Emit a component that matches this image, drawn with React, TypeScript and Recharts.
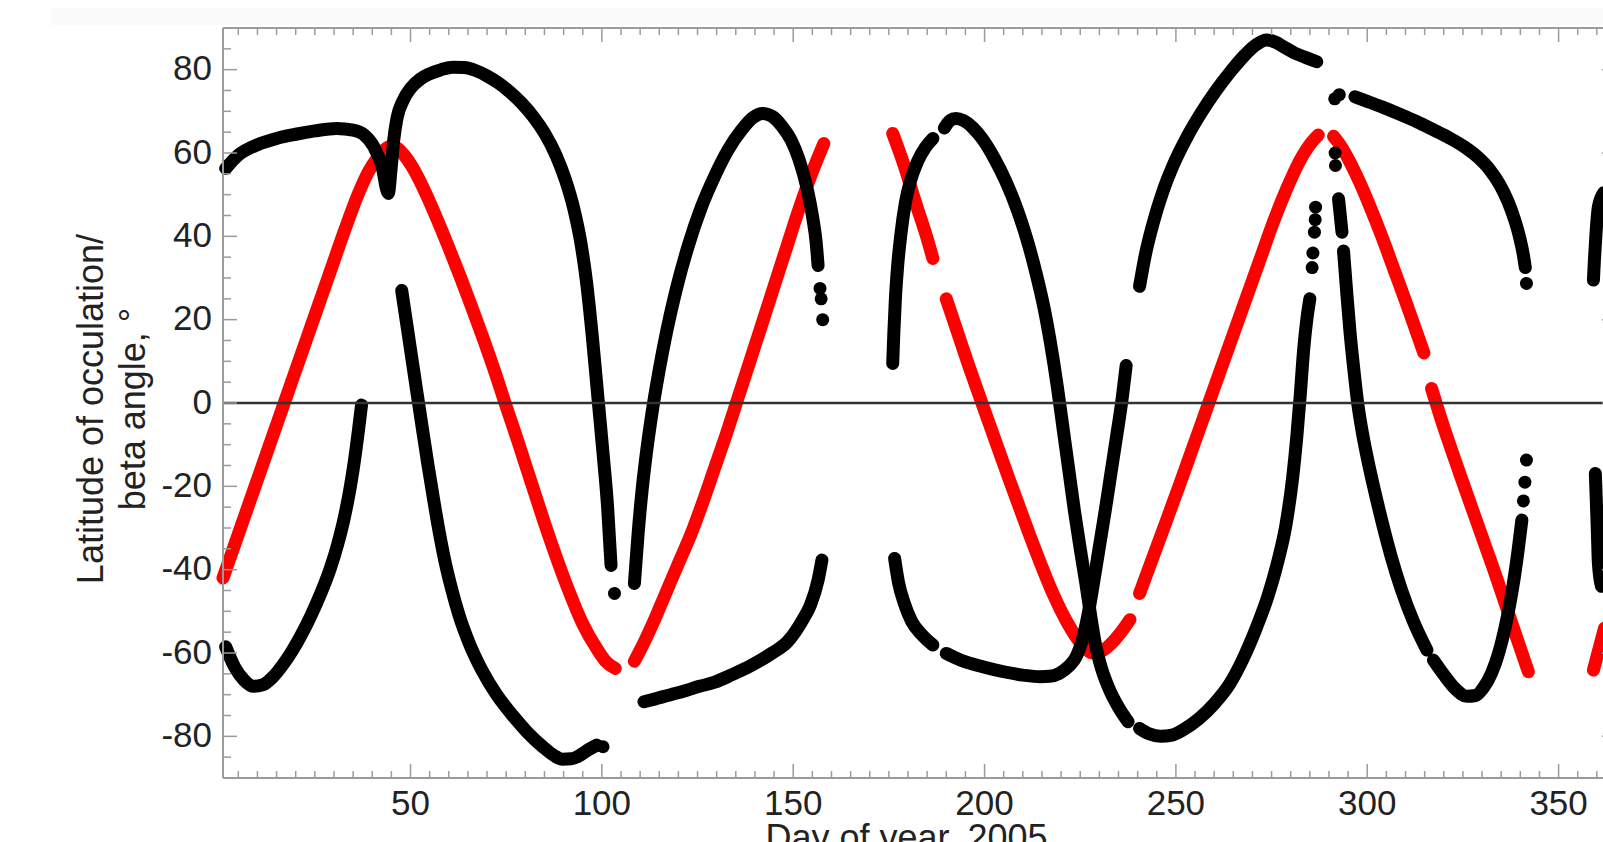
import { ComposedChart, Line, Scatter, XAxis, YAxis, ReferenceLine } from "recharts";

type Pt = [number, number];

// beta angle (red): one array per unbroken run of points, [day, degrees]
const betaA: Pt[] = [
  [1, -42], [5, -31.5], [9, -21], [13, -10.5], [17, 0], [21, 10.5], [25, 21], [29, 31.5], [33, 42],
  [36.5, 50.5], [39, 55.5], [41.5, 59], [43.5, 61], [45, 61.6], [46.5, 61.2], [48.5, 59.3], [51, 55.8],
  [54, 50.3], [57, 44], [60, 37.3], [63, 30.3], [66, 23], [69, 15.5], [72, 7.6], [74.7, 0], [78, -9],
  [81.7, -19.5], [86, -31.5], [90.7, -43.5], [95, -53], [98.7, -59], [101, -62], [103.5, -63.7],
];
const betaB: Pt[] = [
  [108.5, -62], [111, -57.5], [114, -51.5], [117, -45], [120, -38.5], [123.5, -31], [126.5, -23.5],
  [129.5, -15.5], [132.5, -7.5], [135.5, 1], [138.5, 9.5], [141.5, 18], [145, 28], [148.5, 38],
  [151.5, 46.5], [155, 55.5], [158, 62.3],
];
const betaC: Pt[] = [[176, 64.7], [179, 57], [182, 48], [184.5, 41], [186.5, 34.7]];
const betaD: Pt[] = [
  [190, 25], [193, 16.8], [196, 8.6], [199.5, -0.5], [203, -9.5], [206.5, -18.5], [210.5, -28.5],
  [214, -37], [218, -46], [221.5, -52.5], [225, -57.5], [228.5, -60], [230.5, -59.6], [233, -57.8],
  [235.5, -55.2], [238, -52],
];
const betaE: Pt[] = [
  [240.5, -45.7], [244, -37], [247.5, -28.3], [251, -19.5], [254.5, -10.5], [258, -1.5], [261.5, 7.5],
  [265, 16.5], [268.5, 25.5], [272, 34.5], [275.5, 43.5], [279, 51.5], [282, 57.5], [285, 62], [287.2, 64.3],
];
const betaF: Pt[] = [
  [291.2, 64], [293, 61.8], [295.5, 57.8], [298, 53], [301, 46.5], [304, 39.5], [307, 32], [310, 24.5],
  [312.5, 18], [314.8, 12],
];
const betaG: Pt[] = [[316.8, 3.5], [319, -3], [324, -16.5], [329, -29.5], [334, -42.5], [338, -53.5], [342.1, -64.5]];
const betaH: Pt[] = [[359.1, -64.1], [362, -54]];

// latitude of occultation (black)
const latA: Pt[] = [
  [1.7, 56.3], [5, 59.5], [10, 62], [15, 63.5], [20, 64.5], [25, 65.3], [30.7, 65.9], [35, 65.5],
  [37.7, 64.5], [40.4, 61.5], [42.5, 57], [44.2, 50.3], [44.9, 56], [45.6, 63], [46.5, 68.5], [48, 72.5],
  [50, 75.5], [52.5, 77.7], [55, 79], [58, 80], [61, 80.6], [64, 80.5], [67, 79.8], [70, 78.5],
  [73, 76.8], [76, 74.6], [79, 72], [82, 68.8], [85, 64.8], [88, 59.5], [90.5, 53.5], [92.7, 46.5],
  [94.5, 38.5], [96, 29], [97.5, 16], [99, 1], [100.3, -12], [101.5, -25], [102.4, -39],
];
const latB: Pt[] = [
  [1.7, -58.5], [4, -63.3], [6.5, -66.5], [9, -68], [11.5, -67.6], [14, -65.8], [16.5, -63], [19, -59.6],
  [21.5, -55.6], [24, -51], [26.5, -45.8], [29, -39.8], [31, -33.8], [32.7, -27.5], [34.2, -20.5],
  [35.4, -13.5], [36.4, -6.5], [37.2, -0.5],
];
const latC: Pt[] = [
  [47.7, 27], [49, 19], [50.3, 11], [51.6, 3], [53, -5.5], [54.5, -14.5], [56, -23], [57.5, -31], [59, -38],
  [60.7, -44.5], [62.7, -51], [65.5, -58], [68.7, -64.2], [72.5, -70], [76.7, -75], [80.5, -79],
  [84.7, -82.6], [87.5, -84.6], [89.7, -85.5], [92, -85.4], [94.7, -84.3], [96.5, -83.2], [98.7, -82.1],
];
const latD: Pt[] = [
  [108.5, -43.3], [109.5, -31], [110.5, -21], [111.5, -13], [113, -3], [115, 8], [117, 17.5], [119.5, 27.5],
  [122.5, 37.5], [126, 47], [129.5, 54.5], [133, 60.8], [136.5, 65.5], [139.5, 68.5], [142, 69.5],
  [144.5, 68.8], [147, 66.5], [149.5, 63], [151.5, 58.5], [153.5, 52], [155, 45], [156, 38.5], [156.5, 33],
];
const latE: Pt[] = [
  [111, -71.7], [114, -71], [118, -70], [122, -69], [125.5, -68], [129.5, -67], [134, -65.2],
  [139, -63], [144.5, -60], [148.5, -57.3], [152.5, -52], [154.5, -48.5], [156.5, -42.5], [157.5, -37.7],
];
const latF: Pt[] = [[176.5, -37.3], [177.5, -43], [179, -48], [181, -52.5], [183.5, -55.5], [186.5, -58.1]];
const latG: Pt[] = [
  [190, -60.1], [194, -61.8], [199.5, -63.3], [205, -64.5], [210, -65.3], [214.5, -65.7], [217, -65.6],
  [219.5, -64.9], [222, -63.2], [224, -60.8], [225.5, -57], [227, -51], [228.5, -43], [230, -34.5],
  [231.5, -26], [233, -17], [234.5, -8], [235.8, 0], [237, 9],
];
const latH: Pt[] = [
  [176, 9.5], [176.3, 17], [176.7, 25], [177.3, 33], [178.2, 41], [179.3, 48], [180.7, 53.5],
  [182.5, 58], [184.5, 61.3], [186.5, 63.5],
];
const latI: Pt[] = [
  [189.5, 66], [191, 67.8], [192.5, 68.3], [194.5, 67.8], [197, 66], [199.5, 63.3], [202.5, 58.8],
  [205.5, 53.3], [208.5, 46.5], [211, 39.5], [213.5, 31], [215.5, 23], [217.3, 14], [219, 4], [220.5, -6],
  [222, -16], [223.5, -26], [225, -35], [226.5, -43.5], [227.8, -51.5], [229, -58], [230.5, -63.5],
  [232.5, -68.5], [235, -73], [237.5, -76.5],
];
const latJ: Pt[] = [
  [240.5, -78.1], [243, -79.4], [246, -80], [249, -79.7], [252, -78.4], [256, -75.8], [260, -72.2],
  [264, -67.5], [267.5, -61.5], [271, -54], [274, -46.5], [276.5, -38.5], [278.8, -29], [280.5, -18],
  [281.6, -8], [282.5, 2], [283.4, 13], [284.2, 20], [285, 25],
];
const latK: Pt[] = [
  [240.5, 28], [242, 35.5], [244, 43], [246.5, 50.5], [249.5, 57.5], [253, 64], [256.5, 69.5], [260.5, 75],
  [264.5, 79.8], [268, 83.5], [271, 86], [273.7, 87.1], [276, 86.6], [278.5, 85.3], [281, 84],
  [284, 82.9], [286.8, 81.9],
];
const latL: Pt[] = [
  [296.8, 73.5], [300, 72.4], [304, 71], [308.5, 69.3], [313, 67.5], [317.2, 65.6], [321.5, 63.6],
  [325.5, 61.4], [329, 58.9], [332, 56], [334.7, 52.3], [336.8, 48.3], [338.5, 44], [339.8, 39.8],
  [340.8, 35.5], [341.3, 32.5],
];
const latM: Pt[] = [[292.5, 49], [293.4, 41]];
const latN: Pt[] = [
  [293.8, 36.5], [294.6, 27], [295.5, 17], [296.5, 8], [297.5, 0], [298.7, -7], [300.2, -14], [301.9, -21],
  [304, -29], [306.3, -37], [309, -45], [312.1, -52.5], [315.6, -59.3],
];
const latO: Pt[] = [
  [317.3, -61.7], [320, -65.2], [323, -68.6], [326, -70.4], [328.3, -70.2], [330.4, -68.3], [332.5, -64.8],
  [334.5, -59.5], [336, -54], [337.3, -48], [338.4, -42], [339.4, -35.5], [340.4, -28.1],
];
const latP: Pt[] = [[359.1, 29.5], [359.4, 35], [359.8, 41], [360.4, 47.1], [361.8, 50.5]];
const latQ: Pt[] = [[359.6, -16.9], [359.8, -22], [360.1, -30], [360.4, -38.5], [361.2, -44]];

// stray single occultations
const latDots: Pt[] = [
  [103.3, -45.7], [100.3, -82.5], [157, 27.5], [157.3, 25], [157.7, 20], [285.6, 32.5], [285.8, 36],
  [286.2, 41], [286.4, 44], [286.5, 47], [291.5, 73], [292.7, 74], [291.6, 60], [291.7, 57],
  [340.8, -23.5], [341.2, -19], [341.6, -13.7], [341.6, 28.7],
];

const betaRuns = [betaA, betaB, betaC, betaD, betaE, betaF, betaG, betaH];
const latRuns = [latA, latB, latC, latD, latE, latF, latG, latH, latI, latJ, latK, latL, latM, latN, latO, latP, latQ];

const xTicks = [
  5, 10, 15, 20, 25, 30, 35, 40, 45, 50, 55, 60, 65, 70, 75, 80, 85, 90, 95, 100, 105, 110, 115, 120,
  125, 130, 135, 140, 145, 150, 155, 160, 165, 170, 175, 180, 185, 190, 195, 200, 205, 210, 215, 220,
  225, 230, 235, 240, 245, 250, 255, 260, 265, 270, 275, 280, 285, 290, 295, 300, 305, 310, 315, 320,
  325, 330, 335, 340, 345, 350, 355, 360, 365,
];
const yTicks = [
  -85, -80, -75, -70, -65, -60, -55, -50, -45, -40, -35, -30, -25, -20, -15, -10, -5, 0, 5, 10, 15, 20,
  25, 30, 35, 40, 45, 50, 55, 60, 65, 70, 75, 80, 85,
];

const AXIS = "#9b9b9b";
const INK = "#222";
const FONT = "'Liberation Sans', Arial, Helvetica, sans-serif";

const rows = (run: Pt[]) => run.map(([x, y]) => ({ x, y }));
const xLen = (v: number) => (v % 50 === 0 ? 14 : 7);
const yLen = (v: number) => (v % 20 === 0 ? 14 : 8);

function BottomTick({ x, y, payload }: any) {
  const v = payload.value;
  return (
    <g>
      <line x1={x} x2={x} y1={y} y2={y - xLen(v)} stroke={AXIS} strokeWidth={1.5} />
      {v % 50 === 0 && (
        <text x={x} y={y + 37} textAnchor="middle" fontSize={35} fill={INK} fontFamily={FONT}>{v}</text>
      )}
    </g>
  );
}

function TopTick({ x, y, payload }: any) {
  return <line x1={x} x2={x} y1={y} y2={y + xLen(payload.value)} stroke={AXIS} strokeWidth={1.5} />;
}

function LeftTick({ x, y, payload }: any) {
  const v = payload.value;
  return (
    <g>
      <line x1={x} x2={x + yLen(v)} y1={y} y2={y} stroke={AXIS} strokeWidth={1.5} />
      {v % 20 === 0 && (
        <text x={x - 11} y={y + 10.5} textAnchor="end" fontSize={35} fill={INK} fontFamily={FONT}>{v}</text>
      )}
    </g>
  );
}

function RightTick({ x, y, payload }: any) {
  return <line x1={x} x2={x - yLen(payload.value)} y1={y} y2={y} stroke={AXIS} strokeWidth={1.5} />;
}

function XTitle({ viewBox }: any) {
  return (
    <text x={viewBox.x + viewBox.width / 2 - 13} y={viewBox.y + 72} textAnchor="middle" fontSize={36} fill={INK} fontFamily={FONT}>
      Day of year, 2005
    </text>
  );
}

function YTitle({ viewBox }: any) {
  const cy = viewBox.y + viewBox.height / 2 + 6;
  return (
    <g fontSize={36} fill={INK} fontFamily={FONT} textAnchor="middle">
      <text transform={`translate(103, ${cy}) rotate(-90)`}>Latitude of occulation/</text>
      <text transform={`translate(145, ${cy}) rotate(-90)`}>beta angle, °</text>
    </g>
  );
}

const Dot = ({ cx, cy }: any) => <circle cx={cx} cy={cy} r={6.5} fill="#000" />;

export default function App() {
  return (
    <div style={{ position: "fixed", left: 0, top: 0, width: 1603, height: 842, overflow: "hidden", background: "#fff" }}>
      <div style={{ position: "absolute", left: 50, top: 8, right: 0, height: 17, background: "#fafafa" }} />
      <div style={{ position: "absolute", left: 0, top: 0 }}>
        <ComposedChart width={1680} height={900} margin={{ top: 28, right: 64, bottom: 0, left: 0 }}>
          <XAxis
            dataKey="x" type="number" domain={[1, 365]} ticks={xTicks} interval={0}
            tickSize={0} tickMargin={0} tickLine={false} tick={(p: any) => <BottomTick {...p} />}
            axisLine={{ stroke: AXIS, strokeWidth: 2 }} height={122}
            label={(p: any) => <XTitle {...p} />}
          />
          <XAxis
            xAxisId="top" orientation="top" mirror dataKey="x" type="number" domain={[1, 365]} allowDataOverflow
            ticks={xTicks} interval={0} tickSize={0} tickMargin={0} tickLine={false}
            tick={(p: any) => <TopTick {...p} />} axisLine={{ stroke: AXIS, strokeWidth: 2 }}
          />
          <YAxis
            type="number" domain={[-90, 90]} ticks={yTicks} interval={0} width={223}
            tickSize={0} tickMargin={0} tickLine={false} tick={(p: any) => <LeftTick {...p} />}
            axisLine={{ stroke: AXIS, strokeWidth: 2 }} label={(p: any) => <YTitle {...p} />}
          />
          <YAxis
            yAxisId="right" orientation="right" mirror type="number" domain={[-90, 90]} allowDataOverflow
            ticks={yTicks} interval={0} tickSize={0} tickMargin={0} tickLine={false}
            tick={(p: any) => <RightTick {...p} />} axisLine={{ stroke: AXIS, strokeWidth: 2 }}
          />
          {betaRuns.map((run, i) => (
            <Line
              key={`b${i}`} data={rows(run)} dataKey="y" type="monotone" stroke="#ff0000" strokeWidth={13}
              strokeLinecap="round" strokeLinejoin="round" dot={false} activeDot={false} isAnimationActive={false}
            />
          ))}
          {latRuns.map((run, i) => (
            <Line
              key={`l${i}`} data={rows(run)} dataKey="y" type="monotone" stroke="#000" strokeWidth={13}
              strokeLinecap="round" strokeLinejoin="round" dot={false} activeDot={false} isAnimationActive={false}
            />
          ))}
          <Scatter data={rows(latDots)} dataKey="y" shape={Dot} isAnimationActive={false} />
          <ReferenceLine y={0} stroke="#333" strokeWidth={2.5} />
        </ComposedChart>
      </div>
    </div>
  );
}
